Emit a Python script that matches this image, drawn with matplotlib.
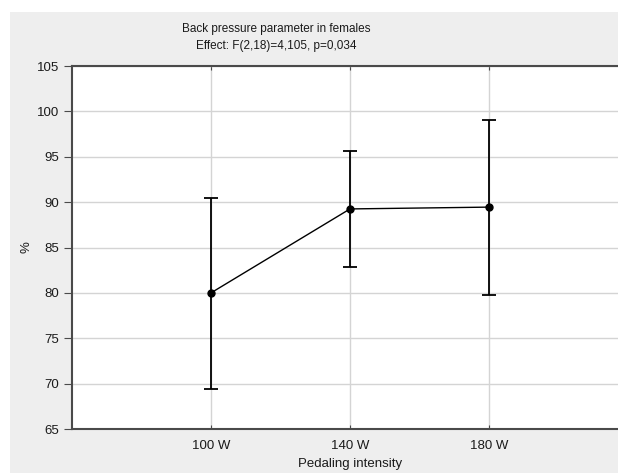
import matplotlib.pyplot as plt
from matplotlib.patches import Rectangle

plt.rcParams['font.family'] = ['Liberation Sans', 'DejaVu Sans']

# Data
intensity = ["100 W", "140 W", "180 W"]
mean_pct = [80.0, 89.25, 89.45]
upper_pct = [90.5, 95.6, 99.05]
lower_pct = [69.45, 82.9, 79.8]

x = list(range(1, len(intensity) + 1))
err_low = [m - lo for m, lo in zip(mean_pct, lower_pct)]
err_high = [hi - m for m, hi in zip(mean_pct, upper_pct)]

fig = plt.figure(figsize=(6.18, 4.73), dpi=100)
fig.patch.set_facecolor("white")
# grey panel behind the plot (white strip at top/left)
fig.patches.append(Rectangle((10 / 618, 0), 1, 1 - 12 / 473, transform=fig.transFigure,
                             facecolor="#eeeeee", edgecolor="none", zorder=-10))

ax = fig.add_axes([72 / 618, 44 / 473, 556 / 618, 363 / 473])
ax.set_facecolor("white")

ax.errorbar(x, mean_pct, yerr=[err_low, err_high], color="black", linewidth=1.0,
            elinewidth=1.3, capsize=5, capthick=1.3, marker="o", markersize=5,
            zorder=3)

ax.set_xlim(0, 4)
ax.set_ylim(65, 105)
ax.set_xticks(x)
ax.set_xticklabels(intensity)
ax.set_yticks(range(65, 106, 5))
ax.grid(True, color="#d4d4d4", linewidth=1.0)
ax.set_axisbelow(True)

for side in ["left", "top", "bottom"]:
  ax.spines[side].set_color("#4a4a4a")
  ax.spines[side].set_linewidth(1.5)
ax.spines["right"].set_visible(False)

ax.tick_params(axis="y", direction="out", length=6, color="#4a4a4a", labelsize=9.5,
               labelcolor="#1a1a1a", pad=3)
ax.tick_params(axis="x", direction="in", length=3, color="#4a4a4a", labelsize=9.5,
               labelcolor="#1a1a1a", pad=8, top=True)

ax.set_xlabel("Pedaling intensity", fontsize=9.5, labelpad=4, color="#1a1a1a")
ax.set_ylabel("%", fontsize=9.5, color="#1a1a1a")
ax.yaxis.set_label_coords(-0.071, 0.5)

fig.text(276 / 618, 1 - 29 / 473, "Back pressure parameter in females",
         ha="center", va="center", fontsize=8.5, color="#1a1a1a")
fig.text(276 / 618, 1 - 46 / 473, "Effect: F(2,18)=4,105, p=0,034",
         ha="center", va="center", fontsize=8.5, color="#1a1a1a")

plt.savefig("out.png", dpi=100)
